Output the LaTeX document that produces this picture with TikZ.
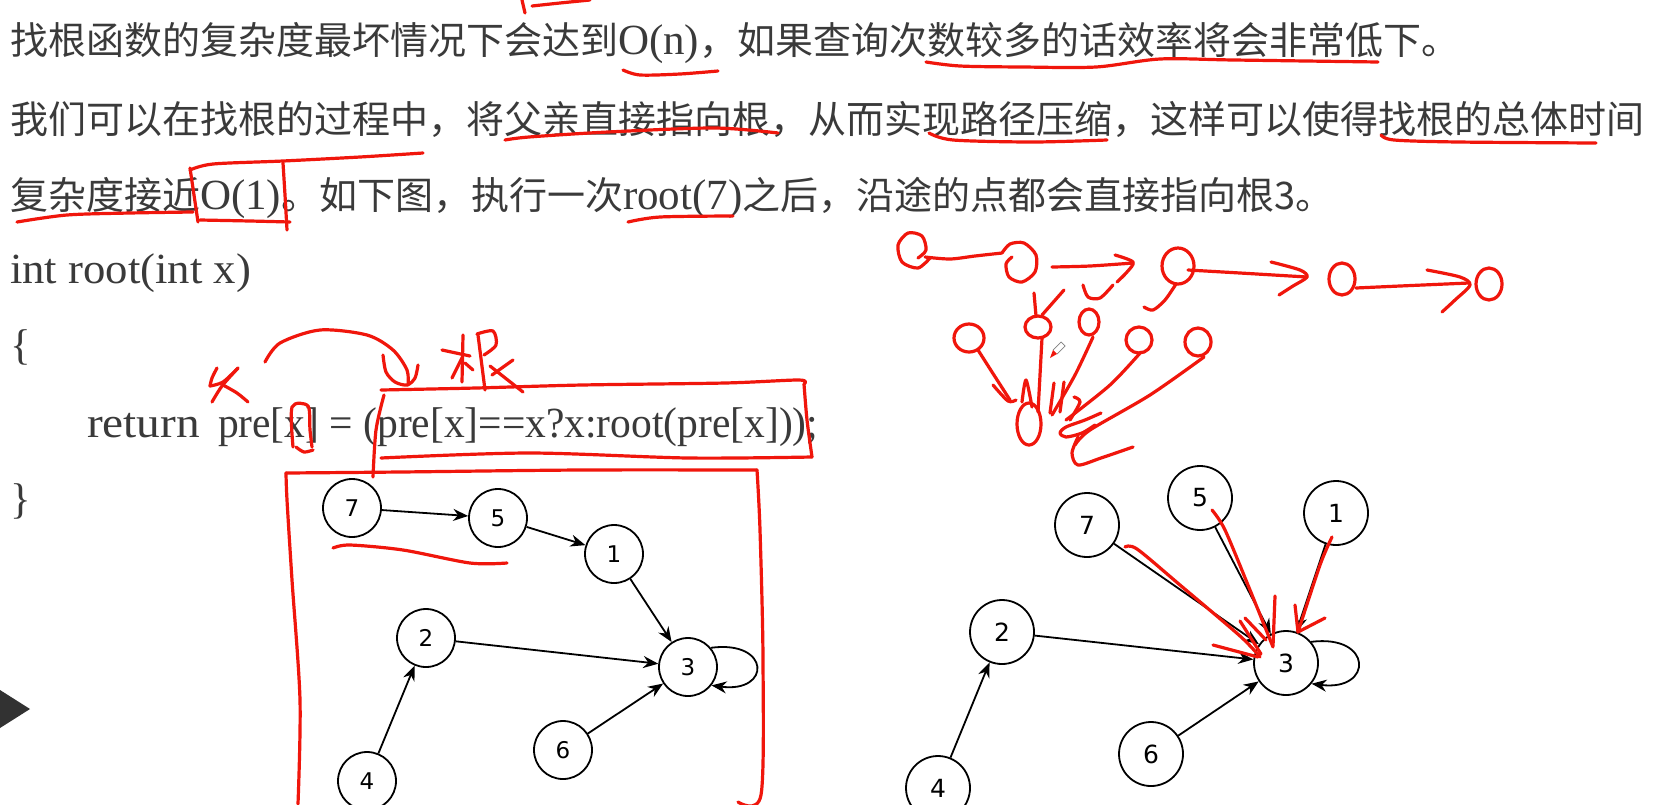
\documentclass[tikz,border=0pt]{standalone}
\usepackage{graphicx}
\usepackage{fontspec}
\setmainfont{Liberation Serif}
\newfontfamily\cjk{Noto Sans CJK SC}
\newfontfamily\gfont{DejaVu Sans}
\usetikzlibrary{arrows.meta}
\definecolor{penred}{RGB}{240,22,12}
\definecolor{ink}{RGB}{58,58,58}
\definecolor{tri}{RGB}{50,50,50}
\begin{document}
\begin{tikzpicture}[x=1pt,y=-1pt,
  cjktxt/.style={inner sep=0pt, outer sep=0pt, anchor=base west, text=ink, font=\cjk\fontsize{38}{40}\selectfont},
  lat/.style={inner sep=0pt, outer sep=0pt, anchor=base west, text=ink, font=\fontsize{43}{45}\selectfont},
  vtxL/.style={circle, draw=black, line width=1.8pt, minimum size=58pt, inner sep=0pt, font=\gfont\fontsize{23}{23}\selectfont},
  vtxR/.style={vtxL, minimum size=64pt, font=\gfont\fontsize{25}{25}\selectfont},
  edge/.style={draw=black, line width=1.8pt, -{Stealth[length=15pt,width=12pt]}},
  pen/.style={draw=penred, line width=3.2pt, line cap=round, line join=round},
]
\fill[white] (0,0) rectangle (1653,804);
\useasboundingbox (0,0) rectangle (1653,804);

% ---------- text lines ----------
\node[cjktxt] (l1a) at (10,54) {找根函数的复杂度最坏情况下会达到};
\node[lat] (l1b) at (618,54) {O(n)};
\node[cjktxt] (l1c) at (699,54) {，如果查询次数较多的话效率将会非常低下。};

\node[cjktxt] (l2) at (10,133) {我们可以在找根的过程中，将父亲直接指向根，从而实现路径压缩，这样可以使得找根的总体时间};

\node[cjktxt] (l3a) at (10,209) {复杂度接近};
\node[lat] (l3b) at (200,209) {O(1)};
\node[cjktxt] (l3c) at (281,209) {。如下图，执行一次};
\node[lat] (l3d) at (623,209) {root(7)};
\node[cjktxt] (l3e) at (742,209) {之后，沿途的点都会直接指向根3。};

% ---------- code ----------
\node[lat] (c1) at (10,283) {\scalebox{1.04}[1]{int root(int x)}};
\node[lat] (c2) at (10,359) {\{};
\node[lat] (c3a) at (87,437) {\scalebox{1.1}[1]{return}};
\node[lat] (c3b) at (218,437) {\scalebox{0.965}[1]{pre[x] = (pre[x]==x?x:root(pre[x]));}};
\node[lat] (c4) at (10,513) {\}};

% play triangle
\fill[tri] (0,690) -- (30,709) -- (0,728) -- cycle;

% ---------- left graph ----------
\node[vtxL] (L7) at (352,508) {7};
\node[vtxL] (L5) at (498,518) {5};
\node[vtxL] (L1) at (614,554) {1};
\node[vtxL] (L2) at (426,638) {2};
\node[vtxL] (L3) at (688,667) {3};
\node[vtxL] (L6) at (563,750) {6};
\node[vtxL] (L4) at (367,781) {4};
\draw[edge] (L7) -- (L5);
\draw[edge] (L5) -- (L1);
\draw[edge] (L1) -- (L3);
\draw[edge] (L2) -- (L3);
\draw[edge] (L6) -- (L3);
\draw[edge] (L4) -- (L2);
\draw[edge] (L3.40) .. controls +(60,-8) and +(60,8) .. (L3.-38);

% ---------- right graph ----------
\node[vtxR] (R7) at (1087,525) {7};
\node[vtxR] (R5) at (1200,498) {5};
\node[vtxR] (R1) at (1336,513) {1};
\node[vtxR] (R2) at (1002,632) {2};
\node[vtxR] (R3) at (1286,663) {3};
\node[vtxR] (R6) at (1151,754) {6};
\node[vtxR] (R4) at (938,788) {4};
\draw[edge] (R7) -- (R3);
\draw[edge] (R5) -- (R3);
\draw[edge] (R1) -- (R3);
\draw[edge] (R2) -- (R3);
\draw[edge] (R6) -- (R3);
\draw[edge] (R4) -- (R2);
\draw[edge] (R3.40) .. controls +(62,-8) and +(62,8) .. (R3.-39);

% ---------- red pen: text marks ----------
\draw[pen] (522,0) -- (525,13);
\draw[pen] plot[smooth] coordinates {(532,6) (560,3) (590,0)};
\draw[pen] plot[smooth] coordinates {(623,70) (640,75) (680,74) (718,71)};
\draw[pen] plot[smooth] coordinates {(926,62) (960,66) (1022,67) (1096,67) (1160,59) (1234,60) (1378,62)};
\draw[pen] plot[smooth] coordinates {(505,140) (529,137) (608,132) (714,128) (778,133)};
\draw[pen] plot[smooth] coordinates {(929,133) (953,140) (1033,142) (1107,140)};
\draw[pen] plot[smooth] coordinates {(1381,135) (1394,140) (1458,142) (1596,143)};
\draw[pen] plot[smooth] coordinates {(190,170) (213,164) (283,161) (360,157) (423,153)};
\draw[pen] plot[smooth] coordinates {(190,168) (194,195) (198,222)};
\draw[pen] plot[smooth] coordinates {(283,163) (285,195) (287,230)};
\draw[pen] plot[smooth] coordinates {(200,220) (250,221) (290,222)};
\draw[pen] plot[smooth] coordinates {(17,222) (67,215) (130,213) (193,212)};
\draw[pen] plot[smooth] coordinates {(628,222) (660,217) (733,216)};

% ---------- red pen: code marks ----------
\draw[pen] plot[smooth] coordinates {(217,368) (212,378) (210,386)};
\draw[pen] plot[smooth] coordinates {(210,386) (223,382) (238,368)};
\draw[pen] plot[smooth] coordinates {(238,368) (222,386) (212,402)};
\draw[pen] plot[smooth] coordinates {(223,385) (237,393) (248,402)};
\draw[pen] plot[smooth] coordinates {(265,362) (280,343) (320,330) (367,335) (393,350) (407,370) (408,385)};
\draw[pen] plot[smooth] coordinates {(383,355) (386,372) (395,382) (407,385) (415,378) (418,365)};
\draw[pen] (442,350) -- (470,356);
\draw[pen] (463,335) -- (462,382);
\draw[pen] (462,358) -- (452,378);
\draw[pen] (465,363) -- (473,370);
\draw[pen] plot[smooth] coordinates {(477,334) (493,331) (496,345) (484,355)};
\draw[pen] (478,335) -- (485,390);
\draw[pen] (492,375) -- (513,360);
\draw[pen] (490,366) -- (523,392);
\draw[pen] plot[smooth] coordinates {(293,447) (292,407) (308,406) (310,430) (312,447)};
\draw[pen] plot[smooth] coordinates {(296,447) (304,452) (313,450)};
\draw[pen] plot[smooth] coordinates {(381,390) (476,388) (582,385) (725,383) (799,380) (804,384)};
\draw[pen] plot[smooth] coordinates {(804,384) (807,420) (812,457)};
\draw[pen] plot[smooth] coordinates {(812,457) (688,458) (529,453) (381,458)};
\draw[pen] plot[smooth] coordinates {(384,395) (376,430) (373,477)};
% big box around left graph
\draw[pen] plot[smooth] coordinates {(298,804) (300,700) (292,580) (287,500) (286,473)};
\draw[pen] plot[smooth] coordinates {(286,473) (400,472) (580,470) (757,470)};
\draw[pen] plot[smooth] coordinates {(757,470) (760,530) (763,660) (761,795) (738,802)};
\draw[pen] plot[smooth] coordinates {(333,548) (350,545) (403,550) (470,563) (507,563)};

% ---------- red pen: doodle top right ----------
\draw[pen] plot[smooth] coordinates {(930,258) (918,268) (902,262) (898,245) (908,233) (922,236) (926,250) (918,258)};
\draw[pen] plot[smooth] coordinates {(925,257) (950,259) (975,256) (1002,253)};
\draw[pen] plot[smooth] coordinates {(1002,253) (1010,244) (1024,243) (1036,255) (1035,272) (1022,282) (1009,277) (1006,264) (1012,257)};
\draw[pen] plot[smooth] coordinates {(1052,267) (1090,266) (1133,263)};
\draw[pen] plot[smooth] coordinates {(1115,255) (1133,262) (1127,272) (1117,282)};
\draw[pen] plot[smooth] coordinates {(1083,285) (1088,297) (1100,298) (1113,285)};
\draw[pen] (1178,266) ellipse [x radius=16, y radius=18];
\draw[pen] plot[smooth] coordinates {(1176,284) (1165,300) (1153,310) (1144,307)};
\draw[pen] plot[smooth] coordinates {(1188,270) (1240,273) (1307,277)};
\draw[pen] plot[smooth] coordinates {(1271,262) (1300,270) (1307,277) (1293,286) (1279,295)};
\draw[pen] (1342,279) ellipse [x radius=13, y radius=16];
\draw[pen] plot[smooth] coordinates {(1356,288) (1400,286) (1469,283)};
\draw[pen] plot[smooth] coordinates {(1427,270) (1460,277) (1470,285) (1455,300) (1442,312)};
\draw[pen] (1489,284) ellipse [x radius=13, y radius=16];
\draw[pen] (1034,293) -- (1036,316);
\draw[pen] (1064,290) -- (1042,315);
\draw[pen] (1038,327) ellipse [x radius=13, y radius=11];
\draw[pen] (1089,322) ellipse [x radius=10, y radius=13];
\draw[pen] (969,338) ellipse [x radius=15, y radius=14];
\draw[pen] (1139,340) ellipse [x radius=13, y radius=13];
\draw[pen] (1198,342) ellipse [x radius=13, y radius=14];
\draw[pen] (1029,424) ellipse [x radius=12, y radius=21];
\draw[pen] plot[smooth] coordinates {(978,350) (992,372) (1010,400)};
\draw[pen] plot[smooth] coordinates {(993,385) (1008,401) (1016,400)};
\draw[pen] plot[smooth] coordinates {(1022,402) (1026,380) (1032,407)};
\draw[pen] plot[smooth] coordinates {(1042,338) (1040,375) (1038,412)};
\draw[pen] plot[smooth] coordinates {(1093,337) (1075,375) (1052,415)};
\draw[pen] (1054,383) -- (1050,413);
\draw[pen] (1064,382) -- (1060,412);
\draw[pen] plot[smooth] coordinates {(1074,397) (1080,402) (1070,420)};
\draw[pen] plot[smooth] coordinates {(1141,352) (1110,385) (1066,420)};
\draw[pen] plot[smooth] coordinates {(1204,357) (1150,395) (1090,430) (1075,445)};
\draw[pen] plot[smooth] coordinates {(1101,413) (1085,420) (1066,427) (1060,433) (1066,437) (1082,433) (1095,425)};
\draw[pen] plot[smooth] coordinates {(1133,447) (1101,458) (1078,465) (1072,453) (1078,437)};
% cursor
\fill[penred] (1050,358) -- (1053,350) -- (1057,354) -- cycle;
\draw[gray, line width=0.7pt] (1053,350) -- (1061,342) -- (1065,346) -- (1057,354);

% ---------- red pen: right graph ----------
\draw[pen] plot[smooth] coordinates {(1125,547) (1137,549) (1180,585) (1240,636) (1260,657)};
\draw[pen] (1213,645) -- (1258,657);
\draw[pen] (1240,621) -- (1261,654);
\draw[pen] plot[smooth] coordinates {(1212,510) (1225,530) (1250,590) (1273,647)};
\draw[pen] (1275,596) -- (1273,646);
\draw[pen] (1245,618) -- (1266,640);
\draw[pen] plot[smooth] coordinates {(1332,537) (1320,565) (1298,632)};
\draw[pen] (1295,605) -- (1298,632) -- (1325,618);
\end{tikzpicture}
\end{document}
